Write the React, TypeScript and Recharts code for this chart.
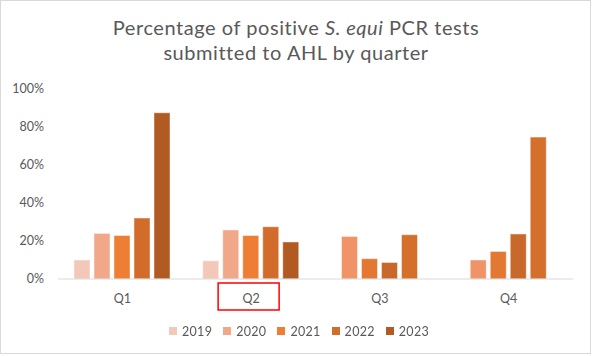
import React from 'react'
import { BarChart, Bar, XAxis, YAxis, Legend, Cell } from 'recharts'

// ── Data ────────────────────────────────────────────────────────────────────
const quarters = ['Q1', 'Q2', 'Q3', 'Q4']
const years = ['2019', '2020', '2021', '2022', '2023']

// share of positive S. equi PCR tests (0–1), one array per year
const pos2019 = [0.100, 0.096, null, null]
const pos2020 = [0.240, 0.258, 0.224, 0.100]
const pos2021 = [0.229, 0.229, 0.107, 0.145]
const pos2022 = [0.321, 0.275, 0.087, 0.237]
const pos2023 = [0.875, 0.195, 0.233, 0.747]

const yTicks = [0, 0.2, 0.4, 0.6, 0.8, 1]

const yearColors = ['#F4C8B8', '#F0A889', '#ED7E33', '#D16C2B', '#B15B22']
// Q3/Q4 bars carry their own shading in the source workbook
const lateColors = ['#F4C8B8', '#F09468', '#E27832', '#C8682A', '#D46F2C']

const series = [pos2019, pos2020, pos2021, pos2022, pos2023]

const data = quarters.map((q, i) => {
  const row: Record<string, any> = { quarter: q }
  years.forEach((y, s) => { row[y] = series[s][i] })
  return row
})

const TEXT = '#595959'
const FONT = 'Lato, "Liberation Sans", sans-serif'
const BAR_SIZE = 16
const BAR_GAP = 4

// Excel closes the hole left by a missing 2019 value, so slide the rest
// of that group left by half a slot to keep it centred on the tick.
function GroupBar(props: any) {
  const { x, y, width, height, fill, payload } = props
  if (!width || height == null || height <= 0) return null
  const dx = payload && payload['2019'] == null ? -(width + BAR_GAP) / 2 : 0
  return (
    <rect
      x={x + dx}
      y={y}
      width={width}
      height={height}
      fill={fill}
      stroke="#FFFFFF"
      strokeOpacity={0.45}
      strokeWidth={1}
    />
  )
}

function QuarterTick({ x, y, payload }: any) {
  return (
    <g>
      <text
        x={x}
        y={y + 19.5}
        dy="0.36em"
        textAnchor="middle"
        fill={TEXT}
        fontSize={12.5}
        fontFamily={FONT}
      >
        {payload.value}
      </text>
      {/* highlight box drawn round the Q2 label in the source image */}
      {payload.value === 'Q2' && (
        <rect x={x - 33} y={y + 4} width={61} height={27} fill="none" stroke="#FF0000" strokeWidth={1.5} />
      )}
    </g>
  )
}

function LegendRow() {
  return (
    <div style={{ height: 20, display: 'flex', justifyContent: 'center', alignItems: 'center', fontFamily: FONT }}>
      {years.map((y, i) => (
        <div key={y} style={{ display: 'flex', alignItems: 'center', marginRight: i < years.length - 1 ? 11 : 0 }}>
          <span style={{ width: 8, height: 8, background: yearColors[i], marginRight: 5 }} />
          <span style={{ fontSize: 12.5, color: TEXT, letterSpacing: 0.3 }}>{y}</span>
        </div>
      ))}
    </div>
  )
}

export default function App() {
  return (
    <div style={{ position: 'fixed', left: 0, top: 0, width: 592, height: 356, background: '#fff' }}>
      <div
        style={{
          position: 'absolute', left: 0, right: 0, top: 15,
          textAlign: 'center', fontFamily: FONT, fontSize: 20, lineHeight: '25px',
          letterSpacing: 0.55, color: TEXT,
        }}
      >
        Percentage of positive <i>S. equi</i> PCR tests
        <br />
        submitted to AHL by quarter
      </div>

      <div style={{ position: 'absolute', left: 0, top: 0 }}>
        <BarChart
          width={592}
          height={356}
          data={data}
          margin={{ top: 89, right: 19, left: 0, bottom: 15 }}
          barSize={BAR_SIZE}
          barGap={BAR_GAP}
        >
          <XAxis
            dataKey="quarter"
            height={42}
            axisLine={{ stroke: '#D9D9D9' }}
            tickLine={false}
            tickSize={0}
            tickMargin={0}
            tick={<QuarterTick />}
            interval={0}
          />
          <YAxis
            width={58}
            domain={[0, 1]}
            ticks={yTicks}
            axisLine={false}
            tickLine={false}
            tickMargin={8}
            tickFormatter={(v: number) => `${Math.round(v * 100)}%`}
            tick={{ fill: TEXT, fontSize: 12.5, fontFamily: FONT }}
          />
          <Legend
            verticalAlign="bottom"
            height={20}
            wrapperStyle={{ left: 0, width: 598 }}
            content={() => <LegendRow />}
          />
          {years.map((y, s) => (
            <Bar key={y} dataKey={y} fill={yearColors[s]} shape={<GroupBar />} isAnimationActive={false}>
              {data.map((row, i) => (
                <Cell key={row.quarter} fill={i >= 2 ? lateColors[s] : yearColors[s]} />
              ))}
            </Bar>
          ))}
        </BarChart>
      </div>

      <div
        style={{
          position: 'absolute', left: 0, top: 0, width: 591, height: 354,
          border: '1px solid #D9D9D9', boxSizing: 'border-box', pointerEvents: 'none',
        }}
      />
    </div>
  )
}
